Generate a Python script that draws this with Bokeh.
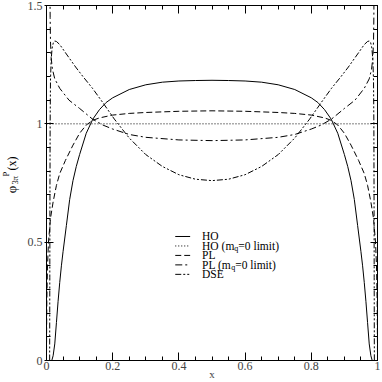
from math import pi
from bokeh.plotting import figure
from bokeh.layouts import row
from bokeh.models import Range1d, LinearAxis, FixedTicker, Label, Arrow
from bokeh.embed import file_html
from bokeh.resources import INLINE

# ---------------- data ----------------
x_ticks = [0, 0.2, 0.4, 0.6, 0.8, 1.0]
x_tick_labels = ["0", "0.2", "0.4", "0.6", "0.8", "1"]
y_ticks = [0, 0.5, 1.0, 1.5]
y_tick_labels = ["0", "0.5", "1", "1.5"]

# HO (solid)
ho_x = [0.005, 0.016, 0.02, 0.025, 0.03, 0.035, 0.04, 0.045, 0.05, 0.06, 0.07, 0.08, 0.09, 0.10,
        0.12, 0.14, 0.16, 0.18, 0.20, 0.25, 0.30, 0.35, 0.40, 0.45, 0.50,
        0.55, 0.60, 0.65, 0.70, 0.75, 0.80, 0.82, 0.84, 0.86, 0.88, 0.90, 0.91, 0.92, 0.93,
        0.94, 0.95, 0.955, 0.96, 0.965, 0.97, 0.975, 0.98, 0.984, 0.995]
ho_y = [0.0, 0.0, 0.02, 0.07, 0.16, 0.25, 0.33, 0.40, 0.46, 0.57, 0.68, 0.76, 0.82, 0.87,
        0.96, 1.02, 1.06, 1.09, 1.11, 1.145, 1.165, 1.176, 1.181, 1.183, 1.184,
        1.183, 1.181, 1.176, 1.165, 1.145, 1.11, 1.09, 1.06, 1.02, 0.96, 0.87, 0.82, 0.76, 0.68,
        0.57, 0.46, 0.40, 0.33, 0.25, 0.16, 0.07, 0.02, 0.0, 0.0]

# HO (m_q=0 limit) (dotted)
hoz_x = [0.0, 1.0]
hoz_y = [1.0, 1.0]

# PL (dashed)
pl_x = [0.0, 0.0003, 0.001, 0.003, 0.006, 0.012, 0.02, 0.03, 0.04, 0.057, 0.08, 0.10, 0.12, 0.14,
        0.16, 0.20, 0.25, 0.30, 0.40, 0.50, 0.60, 0.70, 0.75, 0.80, 0.84, 0.86, 0.88, 0.90,
        0.92, 0.943, 0.96, 0.97, 0.98, 0.988, 0.994, 0.997, 0.999, 0.9997, 1.0]
pl_y = [0.0, 0.12, 0.25, 0.40, 0.50, 0.60, 0.67, 0.74, 0.79, 0.845, 0.91, 0.96, 0.995, 1.015,
        1.025, 1.037, 1.044, 1.048, 1.053, 1.055, 1.053, 1.048, 1.044, 1.037, 1.025, 1.015, 0.995, 0.96,
        0.91, 0.845, 0.79, 0.74, 0.67, 0.60, 0.50, 0.40, 0.25, 0.12, 0.0]

# PL (m_q=0 limit) (dash-dot)
plz_x = [0.0105, 0.011, 0.012, 0.014, 0.018, 0.025, 0.04, 0.068, 0.10, 0.139, 0.17, 0.20, 0.25,
         0.30, 0.40, 0.50, 0.60, 0.70, 0.75, 0.80, 0.83, 0.861, 0.90, 0.932, 0.96, 0.975,
         0.982, 0.986, 0.988, 0.989, 0.9895]
plz_y = [1.60, 1.45, 1.35, 1.28, 1.23, 1.19, 1.15, 1.10, 1.065, 1.02, 0.995, 0.978, 0.955,
         0.943, 0.932, 0.929, 0.932, 0.943, 0.955, 0.978, 0.995, 1.02, 1.065, 1.10, 1.15, 1.19,
         1.23, 1.28, 1.35, 1.45, 1.60]

# DSE (dash-dot-dot)
dse_x = [0.0095, 0.0100, 0.0105, 0.011, 0.012, 0.014, 0.017, 0.021, 0.025, 0.03, 0.04, 0.06,
         0.088, 0.11, 0.139, 0.17, 0.205, 0.25, 0.30, 0.35, 0.40, 0.45, 0.50,
         0.55, 0.60, 0.65, 0.70, 0.75, 0.795, 0.83, 0.861, 0.89, 0.912, 0.94, 0.96, 0.97,
         0.975, 0.979, 0.983, 0.986, 0.988, 0.989, 0.9895, 0.990, 0.9905]
dse_y = [0.0, 0.35, 0.75, 1.0, 1.18, 1.27, 1.32, 1.345, 1.35, 1.348, 1.335, 1.295,
         1.24, 1.20, 1.15, 1.09, 1.02, 0.94, 0.87, 0.82, 0.785, 0.766, 0.76,
         0.766, 0.785, 0.82, 0.87, 0.94, 1.02, 1.09, 1.15, 1.20, 1.24, 1.295, 1.335, 1.348,
         1.35, 1.345, 1.32, 1.27, 1.18, 1.0, 0.75, 0.35, 0.0]

legend_labels = ["HO", "HO (m", "PL", "PL (m", "DSE"]

# ---------------- styles ----------------
FONT = "Liberation Serif"
styles = [
    dict(line_dash="solid"),
    dict(line_dash="1 2"),
    dict(line_dash="6 3"),
    dict(line_dash="7 3 2 3"),
    dict(line_dash="6 2 2 2 2 2"),
]
series = [(ho_x, ho_y), (hoz_x, hoz_y), (pl_x, pl_y), (plz_x, plz_y), (dse_x, dse_y)]

LW = 24  # width of the strip holding the rotated y-axis title
H = 382

p = figure(width=382 - LW, height=H, x_range=Range1d(0, 1), y_range=Range1d(0, 1.5),
           output_backend="svg", toolbar_location=None,
           min_border_left=44 - LW, min_border_right=5, min_border_top=5, min_border_bottom=22)
p.xgrid.visible = False
p.ygrid.visible = False
p.outline_line_color = "black"
p.outline_line_width = 1
p.background_fill_color = "white"
p.border_fill_color = "white"

for (xs, ys), st in zip(series, styles):
    p.line(xs, ys, line_color="black", line_width=1, **st)

x_minor = [i * 0.05 for i in range(21)]
y_minor = [i * 0.1 for i in range(16)]


def style_axis(ax, ticks, minor, labels, tin, tout):
    ax.ticker = FixedTicker(ticks=ticks, minor_ticks=minor)
    ax.major_label_overrides = {t: l for t, l in zip(ticks, labels)}
    ax.major_tick_in = tin
    ax.major_tick_out = tout
    ax.minor_tick_in = 4
    ax.minor_tick_out = 0
    ax.axis_line_color = "black"
    ax.major_tick_line_color = "black"
    ax.minor_tick_line_color = "black"
    ax.major_label_text_font = FONT
    ax.major_label_text_font_size = "12px"
    ax.major_label_standoff = 3


def mirror_axis(ticks, tin):
    # ticks only (drawn as "minor" ticks so that no labels exist)
    ax = LinearAxis(ticker=FixedTicker(ticks=[], minor_ticks=ticks))
    ax.minor_tick_in = tin
    ax.minor_tick_out = 0
    ax.major_tick_in = 0
    ax.major_tick_out = 0
    ax.major_label_standoff = 0
    ax.axis_line_color = "black"
    ax.minor_tick_line_color = "black"
    return ax


style_axis(p.xaxis[0], x_ticks, x_minor, x_tick_labels, 8, 0)
style_axis(p.yaxis[0], y_ticks, y_minor, y_tick_labels, 7, 2)
p.yaxis[0].major_label_standoff = 2
p.xaxis[0].major_label_standoff = 1
p.xaxis[0].axis_label = "x"
p.xaxis[0].axis_label_text_font = FONT
p.xaxis[0].axis_label_text_font_style = "normal"
p.xaxis[0].axis_label_text_font_size = "11px"
p.xaxis[0].axis_label_standoff = -5

p.add_layout(mirror_axis(x_minor, 4), "above")
p.add_layout(mirror_axis(x_ticks, 8), "above")
p.add_layout(mirror_axis(y_minor, 4), "right")
p.add_layout(mirror_axis(y_ticks, 7), "right")

# legend (drawn inside the frame)
leg_rows = [0.524, 0.484, 0.444, 0.404, 0.364]
key_x0, key_x1, txt_x = 0.389, 0.434, 0.47
sub_off = {1: 32.3, 3: 29.1}
for i, (lab, st, yy) in enumerate(zip(legend_labels, styles, leg_rows)):
    p.add_layout(Arrow(end=None, x_start=key_x0, y_start=yy, x_end=key_x1, y_end=yy,
                       line_color="black", line_width=1, **st))
    p.add_layout(Label(x=txt_x, y=yy, text=lab, text_baseline="middle", text_align="left",
                       text_font=FONT, text_font_size="11.5px", text_color="black"))
    if i in sub_off:
        p.add_layout(Label(x=txt_x, y=yy, x_offset=sub_off[i], y_offset=-3, text="q",
                           text_baseline="middle", text_align="left",
                           text_font=FONT, text_font_size="8px", text_color="black"))
        p.add_layout(Label(x=txt_x, y=yy, x_offset=sub_off[i] + 4, text="=0 limit)",
                           text_baseline="middle", text_align="left",
                           text_font=FONT, text_font_size="11.5px", text_color="black"))

# strip on the left holding the y-axis title phi_{3pi}^P(x), rotated
lab_fig = figure(width=LW, height=H, x_range=Range1d(0, LW), y_range=Range1d(0, H),
                 output_backend="svg", toolbar_location=None, min_border=0,
                 x_axis_type=None, y_axis_type=None)
lab_fig.outline_line_color = None
lab_fig.xgrid.visible = False
lab_fig.ygrid.visible = False
ylab = [("φ", 10.5, H - 198, "13px"), ("3π", 14.5, H - 188, "8.5px"),
        ("P", 5.0, H - 181.5, "8.5px"), ("(x)", 11.5, H - 170, "12px")]
for t, xx, yy, fs in ylab:
    lab_fig.add_layout(Label(x=xx, y=yy, text=t, angle=pi / 2, text_align="center",
                             text_baseline="middle", text_font=FONT, text_font_size=fs,
                             text_color="black"))

layout = row(lab_fig, p, spacing=0)
open("out.html", "w").write(file_html(layout, INLINE))
